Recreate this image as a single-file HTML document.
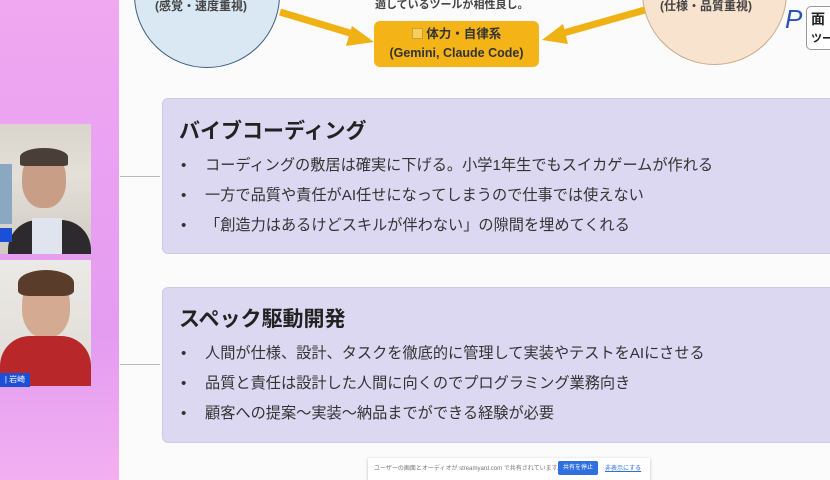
<!DOCTYPE html>
<html><head><meta charset="utf-8"><style>
*{margin:0;padding:0;box-sizing:border-box}
body{width:830px;height:480px;overflow:hidden;position:relative;font-family:"Liberation Sans","Noto Sans CJK JP",sans-serif;background:#fafafa}
.abs{position:absolute}
.bg{left:0;top:0;width:119px;height:480px;background:linear-gradient(180deg,#f0a8f0 0%,#e9a0f2 40%,#e39cf0 70%,#f2b0f0 100%)}
.box{left:162px;width:680px;background:#dcd8f1;border-radius:6px;border:1px solid #cfcbe6}
.box h2{position:absolute;left:16px;font-size:21px;font-weight:bold;color:#222}
.box ul{position:absolute;left:18px;list-style:none;font-size:15.2px;color:#333;white-space:nowrap}
.box li{height:30px;line-height:30px}
.box li:before{content:"•";display:inline-block;width:24px;color:#333}
</style></head><body>
<div class="abs bg"></div>
<div class="abs" style="left:119px;top:0;width:711px;height:480px;background:#fbfbfb"></div>
<div class="abs" style="left:0;top:124px;width:91px;height:130px;background:linear-gradient(180deg,#d9d5cc 0%,#e4e0d8 40%,#cfcac3 100%)">
 <div class="abs" style="left:0;top:40px;width:12px;height:60px;background:#8aa8c0"></div>
 <div class="abs" style="left:22px;top:28px;width:44px;height:56px;border-radius:45%;background:#c99e86"></div>
 <div class="abs" style="left:20px;top:24px;width:48px;height:18px;border-radius:50% 50% 10% 10%;background:#4a3f38"></div>
 <div class="abs" style="left:8px;top:96px;width:83px;height:34px;border-radius:30px 30px 0 0;background:#2c2a2c"></div>
 <div class="abs" style="left:32px;top:94px;width:30px;height:36px;background:#dfe4ee"></div>
 <div class="abs" style="left:0;top:104px;width:12px;height:14px;background:#1a4fd6"></div>
</div>
<div class="abs" style="left:0;top:260px;width:91px;height:126px;background:linear-gradient(180deg,#eceae6,#dedbd6)">
 <div class="abs" style="left:22px;top:16px;width:48px;height:62px;border-radius:45%;background:#d4ab92"></div>
 <div class="abs" style="left:18px;top:10px;width:56px;height:26px;border-radius:50% 50% 20% 20%;background:#5a3c2a"></div>
 <div class="abs" style="left:0;top:76px;width:91px;height:50px;border-radius:30px 30px 0 0;background:#b8282a"></div>
 <div class="abs" style="left:0;top:113px;width:30px;height:14px;background:#1a4fd6;color:#fff;font-size:8px;line-height:14px;text-align:center">| 岩崎</div>
</div>
<div class="abs" style="left:120px;top:176px;width:40px;height:1px;background:#bbb"></div>
<div class="abs" style="left:120px;top:364px;width:40px;height:1px;background:#bbb"></div>
<div class="abs" style="left:134px;top:-78px;width:146px;height:146px;border-radius:50%;background:#d9e8f3;border:1.5px solid #3d5f80"></div>
<div class="abs" style="left:155px;top:-3px;font-size:12px;font-weight:bold;color:#444">(感覚・速度重視)</div>
<div class="abs" style="left:642px;top:-80px;width:145px;height:145px;border-radius:50%;background:#f8e3cf;border:1.5px solid #c9a888"></div>
<div class="abs" style="left:660px;top:-3px;font-size:12px;font-weight:bold;color:#444">(仕様・品質重視)</div>
<div class="abs" style="left:375px;top:-4px;font-size:11px;font-weight:bold;color:#444">適しているツールが相性良し。</div>
<svg class="abs" style="left:0;top:0" width="830" height="80">
 <line x1="280" y1="12" x2="360" y2="36" stroke="#f0b115" stroke-width="7"/>
 <polygon points="374,42 352,26 346,46" fill="#f0b115"/>
 <line x1="645" y1="10" x2="560" y2="34" stroke="#f0b115" stroke-width="7"/>
 <polygon points="542,40 563,24 568,44" fill="#f0b115"/>
</svg>
<div class="abs" style="left:374px;top:21px;width:165px;height:46px;background:#f4b417;border-radius:6px;text-align:center;font-size:12.5px;font-weight:bold;color:#333;line-height:19px;padding-top:4px">
 <span style="display:inline-block;width:11px;height:11px;border:1px solid #c9a040;background:#f8cd5a;vertical-align:-1px"></span> 体力・自律系<br>(Gemini, Claude Code)</div>
<div class="abs" style="left:785px;top:4px;font-size:26px;font-style:italic;color:#2a52b8">P</div>
<div class="abs" style="left:806px;top:6px;width:30px;height:44px;border:1px solid #999;border-radius:5px;background:#fff;font-size:14px;font-weight:bold;line-height:18px;padding:3px 0 0 4px;color:#222">面<br><span style="font-size:11px">ツー</span></div>
<div class="abs box" style="top:98px;height:156px">
 <h2 style="top:16px">バイブコーディング</h2>
 <ul style="top:52px">
  <li>コーディングの敷居は確実に下げる。小学1年生でもスイカゲームが作れる</li>
  <li>一方で品質や責任がAI任せになってしまうので仕事では使えない</li>
  <li>「創造力はあるけどスキルが伴わない」の隙間を埋めてくれる</li>
 </ul>
</div>
<div class="abs box" style="top:287px;height:156px">
 <h2 style="top:15px">スペック駆動開発</h2>
 <ul style="top:51px">
  <li>人間が仕様、設計、タスクを徹底的に管理して実装やテストをAIにさせる</li>
  <li>品質と責任は設計した人間に向くのでプログラミング業務向き</li>
  <li>顧客への提案～実装～納品までができる経験が必要</li>
 </ul>
</div>
<div class="abs" style="left:368px;top:458px;width:282px;height:22px;background:#fff;box-shadow:0 1px 3px #bbb"></div>
<div class="abs" style="left:374px;top:463px;font-size:6px;color:#777">ユーザーの画面とオーディオが streamyard.com で共有されています。</div>
<div class="abs" style="left:558px;top:461px;width:40px;height:14px;background:#2f6fe0;border-radius:2px;color:#fff;font-size:6px;line-height:14px;text-align:center">共有を停止</div>
<div class="abs" style="left:605px;top:463px;font-size:6px;color:#2f6fe0;text-decoration:underline">非表示にする</div>
</body></html>
